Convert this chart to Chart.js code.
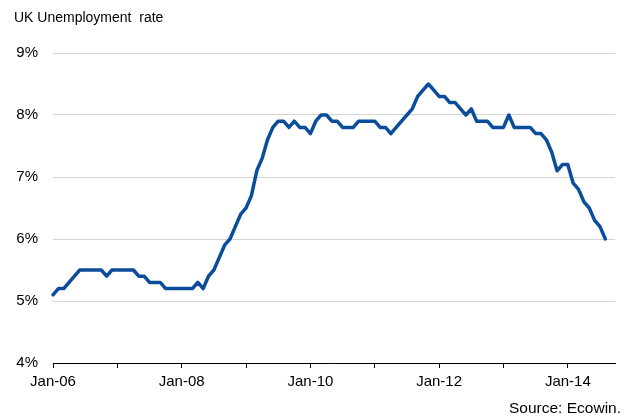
<!DOCTYPE html>
<html>
<head>
<meta charset="utf-8">
<script src="https://cdn.jsdelivr.net/npm/chart.js@4.4.1/dist/chart.umd.min.js"></script>
<style>
  html, body { margin: 0; padding: 0; background: #fff; }
  #wrap { position: relative; width: 633px; height: 416px; overflow: hidden; }
  #c { position: absolute; left: 0; top: 0; }
  .title { position: absolute; left: 14px; top: 9px; font-family: "Liberation Sans", Arial, sans-serif; font-size: 14px; color: #000; white-space: pre; }
  .source { position: absolute; right: 12px; top: 399px; font-family: "Liberation Sans", Arial, sans-serif; font-size: 15.5px; color: #000; white-space: pre; }
</style>
</head>
<body>
<div id="wrap">
  <canvas id="c" width="633" height="416"></canvas>
  <div class="title">UK Unemployment  rate</div>
  <div class="source">Source: Ecowin.</div>
</div>
<script>
// Monthly categories Jan-06 .. Aug-14
const monthNames = ['Jan','Feb','Mar','Apr','May','Jun','Jul','Aug','Sep','Oct','Nov','Dec'];
const years = ['06','07','08','09','10','11','12','13','14'];
// UK unemployment rate, %
const rate = [
  5.1,5.2,5.2,5.3,5.4,5.5,5.5,5.5,5.5,5.5,5.4,5.5,   // 2006
  5.5,5.5,5.5,5.5,5.4,5.4,5.3,5.3,5.3,5.2,5.2,5.2,   // 2007
  5.2,5.2,5.2,5.3,5.2,5.4,5.5,5.7,5.9,6.0,6.2,6.4,   // 2008
  6.5,6.7,7.1,7.3,7.6,7.8,7.9,7.9,7.8,7.9,7.8,7.8,   // 2009
  7.7,7.9,8.0,8.0,7.9,7.9,7.8,7.8,7.8,7.9,7.9,7.9,   // 2010
  7.9,7.8,7.8,7.7,7.8,7.9,8.0,8.1,8.3,8.4,8.5,8.4,   // 2011
  8.3,8.3,8.2,8.2,8.1,8.0,8.1,7.9,7.9,7.9,7.8,7.8,   // 2012
  7.8,8.0,7.8,7.8,7.8,7.8,7.7,7.7,7.6,7.4,7.1,7.2,   // 2013
  7.2,6.9,6.8,6.6,6.5,6.3,6.2,6.0                    // 2014
];
const yTicks = [4, 5, 6, 7, 8, 9];
const xTickMonths = [0, 12, 24, 36, 48, 60, 72, 84, 96];   // a tick mark every January
const xTickLabels = ['Jan-06','Jan-08','Jan-10','Jan-12','Jan-14'];

const months = [];
for (const y of years) for (const m of monthNames) months.push(m + '-' + y);
const points = rate.map((v, i) => ({ x: i, y: v }));

const FONT = "'Liberation Sans', Arial, sans-serif";

new Chart(document.getElementById('c'), {
  type: 'line',
  data: {
    datasets: [{
      label: 'UK Unemployment rate',
      data: points,
      borderColor: '#0b4d9b',
      borderWidth: 3.5,
      pointRadius: 0,
      tension: 0,
      borderJoinStyle: 'round',
      borderCapStyle: 'round',
      clip: 8
    }]
  },
  options: {
    responsive: false,
    animation: false,
    devicePixelRatio: 1,
    layout: { padding: { left: 0, right: 18, top: 53, bottom: 0 } },
    plugins: { legend: { display: false }, tooltip: { enabled: false }, title: { display: false } },
    scales: {
      x: {
        type: 'linear',
        min: 0,
        max: 104.8,
        afterFit: s => { s.height = 53; },
        afterBuildTicks: s => { s.ticks = xTickMonths.map(v => ({ value: v })); },
        ticks: {
          autoSkip: false,
          maxRotation: 0,
          padding: 5,
          color: '#000',
          font: { family: FONT, size: 15 },
          callback: v => {
            const lbl = months[v];
            return xTickLabels.includes(lbl) ? lbl : '';
          }
        },
        grid: { drawOnChartArea: false, drawTicks: true, tickLength: 5, color: '#000', lineWidth: 1 },
        border: { display: true, color: '#000', width: 1 }
      },
      y: {
        min: 4,
        max: 9,
        afterFit: s => { s.width = 53; },
        afterBuildTicks: s => { s.ticks = yTicks.map(v => ({ value: v })); },
        ticks: {
          padding: 15,
          color: '#000',
          font: { family: FONT, size: 15 },
          callback: v => v + '%'
        },
        grid: { color: '#d4d4d4', lineWidth: 1, drawTicks: false },
        border: { display: false }
      }
    }
  }
});
</script>
</body>
</html>
